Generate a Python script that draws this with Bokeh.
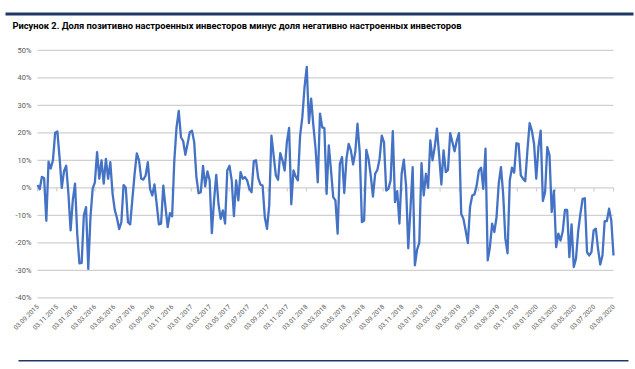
from datetime import datetime, timedelta
from math import pi

from bokeh.plotting import figure
from bokeh.models import Range1d
from bokeh.core.properties import value
from bokeh.embed import file_html
from bokeh.resources import INLINE

title_text = ("Рисунок 2. Доля позитивно настроенных инвесторов минус "
              "доля негативно настроенных инвесторов")

start_date = "03.09.2015"   # first weekly observation

tick_labels = [
    "03.09.2015", "03.11.2015", "03.01.2016", "03.03.2016", "03.05.2016",
    "03.07.2016", "03.09.2016", "03.11.2016", "03.01.2017", "03.03.2017",
    "03.05.2017", "03.07.2017", "03.09.2017", "03.11.2017", "03.01.2018",
    "03.03.2018", "03.05.2018", "03.07.2018", "03.09.2018", "03.11.2018",
    "03.01.2019", "03.03.2019", "03.05.2019", "03.07.2019", "03.09.2019",
    "03.11.2019", "03.01.2020", "03.03.2020", "03.05.2020", "03.07.2020",
    "03.09.2020",
]

y_ticks = [-40, -30, -20, -10, 0, 10, 20, 30, 40, 50]

# weekly values, % (positive minus negative)
values = [
    1, -0.5, 4, 3.5, -12, 9.5, 7, 10, 20, 20.5,
    11, 0, 6, 8, -2, -15.5, -4.5, 1.5, -16.7, -27.5,
    -27.3, -10, -7, -29.5, -10.7, -0.3, 2, 13, 3.3, 10,
    1.5, 10.5, 3.3, 9.3, -2, -8, -11, -15, -12.5, 1,
    0, -12.5, -13.3, -4, 5, 12.5, 10, 3.3, 3, 4.5,
    9.3, -0.4, -2.8, 1.2, -5.8, -13.3, -13, 0.8, -7, -14.3,
    -9.2, -10.4, 10, 22, 28, 18.4, 17, 12, 16, 20.2,
    20.8, 16.6, 3.9, -2, -1.6, 8, 0.5, 6, 2.7, -16.5,
    -4.6, 4.7, -5.8, -11.3, -8.2, -13, 6.3, 8, 2.7, -10.3,
    2.7, -4.6, 5.7, 3.3, 3.9, 2.7, -0.4, -1.6, 9.7, 10,
    3.6, 1.2, 0.8, -10.7, -14.9, -6.4, 19, 11.8, 4.5, 2.9,
    12.6, 10, 6.3, 16.6, 21.8, -6, 6.3, 4.1, 2.7, 19,
    25.7, 36.6, 44, 23.5, 32.4, 22.7, 14.2, 2, 27, 22,
    21.7, -2.2, 15.4, 6.3, -3.4, -4.6, -16.7, 8.7, 11.2, -1.9,
    10.5, 16, 13.6, 8.5, 13, 23.3, 13, -12.5, -11.9, 13.8,
    10.5, 4.5, -3.2, 5.1, 6.5, 10.5, 19, 16.6, -1, -0.4,
    2.7, 20.6, -5.2, -1.2, -13, 5.1, 10.2, 0.8, -22, -7.6,
    7.5, -28.2, -22.5, -20, 9, -2.8, 5.1, 0, 17.2, 10,
    14.8, 21.5, 11.8, 1.2, 13.6, 5.7, 6.5, 19.9, 16.6, 13.3,
    17.2, 19.9, -9.5, -11.3, -15.5, -20.1, -7, -2.8, -2.4, 0.8,
    6.3, 7.3, -0.4, 14.2, -26.4, -21.6, -13, -16.1, -10.7, 1.5,
    7.5, -2.2, -18.5, -23.8, 2.7, 7.3, 5.5, 16.2, 16, 4.5,
    3.3, 2.4, 13.6, 23.5, 20.8, 16, 3.3, 14.8, 20.8, -4.8,
    -1.6, 14.8, 11.8, -8.8, -1, -21.6, -16.7, -19.2, -15.8, -8,
    -8, -25.2, -13.3, -28.8, -25.8, -15.8, -9.5, -4, -3.8, -23.4,
    -24.6, -23.4, -15.5, -14.9, -22.2, -27.9, -24.6, -12.1, -12.1, -7.6,
    -11.9, -24.6,
]

start = datetime.strptime(start_date, "%d.%m.%Y")
dates = [start + timedelta(weeks=i) for i in range(len(values))]
tick_dates = [datetime.strptime(t, "%d.%m.%Y") for t in tick_labels]

# ---- page geometry (pixels) ----
W, H = 635, 369
PLOT_L, PLOT_R = 37, 613          # data span left/right
Y_TOP_PX, Y_BOT_PX = 49.8, 297.3  # pixel rows of the top / bottom tick
FONT = "Roboto"
NAVY = "#1F3864"
GRID = "#D0D0D0"
LABEL = "#595959"

span = dates[-1] - dates[0]
plot_w = PLOT_R - PLOT_L
x_start = dates[0] - span * (PLOT_L / plot_w)
x_end = dates[-1] + span * ((W - PLOT_R) / plot_w)

px_per_unit = (Y_BOT_PX - Y_TOP_PX) / (y_ticks[-1] - y_ticks[0])
y_end = y_ticks[-1] + Y_TOP_PX / px_per_unit
y_start = y_ticks[0] - (H - Y_BOT_PX) / px_per_unit

p = figure(width=W, height=H, x_axis_type="datetime",
           output_backend="svg", toolbar_location=None,
           x_axis_location=None, y_axis_location=None,
           title_location=None,
           x_range=Range1d(x_start, x_end), y_range=Range1d(y_start, y_end),
           min_border=0)
p.outline_line_color = None
p.xgrid.grid_line_color = None
p.ygrid.grid_line_color = None
p.background_fill_color = "white"
p.border_fill_color = "white"

# pixel-space ranges for the page decorations (y measured from the top)
p.extra_x_ranges = {"px": Range1d(0, W)}
p.extra_y_ranges = {"px": Range1d(H, 0)}

# horizontal gridlines at the y ticks, across the data span
p.multi_line(xs=[[dates[0], dates[-1]] for _ in y_ticks],
             ys=[[t, t] for t in y_ticks],
             line_color=GRID, line_width=1.2)

# small tick marks on the zero line
p.multi_line(xs=[[d, d] for d in tick_dates],
             ys=[[0, -1.3] for _ in tick_dates],
             line_color=GRID, line_width=1.2)

# data
p.line(dates, values, line_color="#4472C4", line_width=2.3,
       line_join="round")

# y tick labels
p.text(x=[dates[0]] * len(y_ticks), y=y_ticks,
       text=[f"{t}%" for t in y_ticks], x_offset=-6,
       text_align=value("right"), text_baseline=value("middle"),
       text_font=value(FONT), text_font_size=value("7.5px"),
       text_color=value(LABEL))

# x tick labels, rotated 45 degrees, ending at their dates
p.text(x=tick_dates, y=[305] * len(tick_dates), y_range_name="px",
       text=tick_labels, angle=pi / 4,
       text_align=value("right"), text_baseline=value("middle"),
       text_font=value(FONT), text_font_size=value("6.5px"),
       text_color=value(LABEL))

# heading
p.text(x=[12], y=[25], x_range_name="px", y_range_name="px",
       text=[title_text], text_align=value("left"),
       text_baseline=value("middle"), text_font=value(FONT),
       text_font_style=value("bold"), text_font_size=value("9.3px"),
       text_color=value("#000000"))

# navy rules above and below
p.line([5, 633], [13.5, 13.5], x_range_name="px", y_range_name="px",
       line_color=NAVY, line_width=3)
p.line([18, 628], [360.2, 360.2], x_range_name="px", y_range_name="px",
       line_color=NAVY, line_width=1.6)

open("out.html", "w").write(file_html(p, INLINE))
